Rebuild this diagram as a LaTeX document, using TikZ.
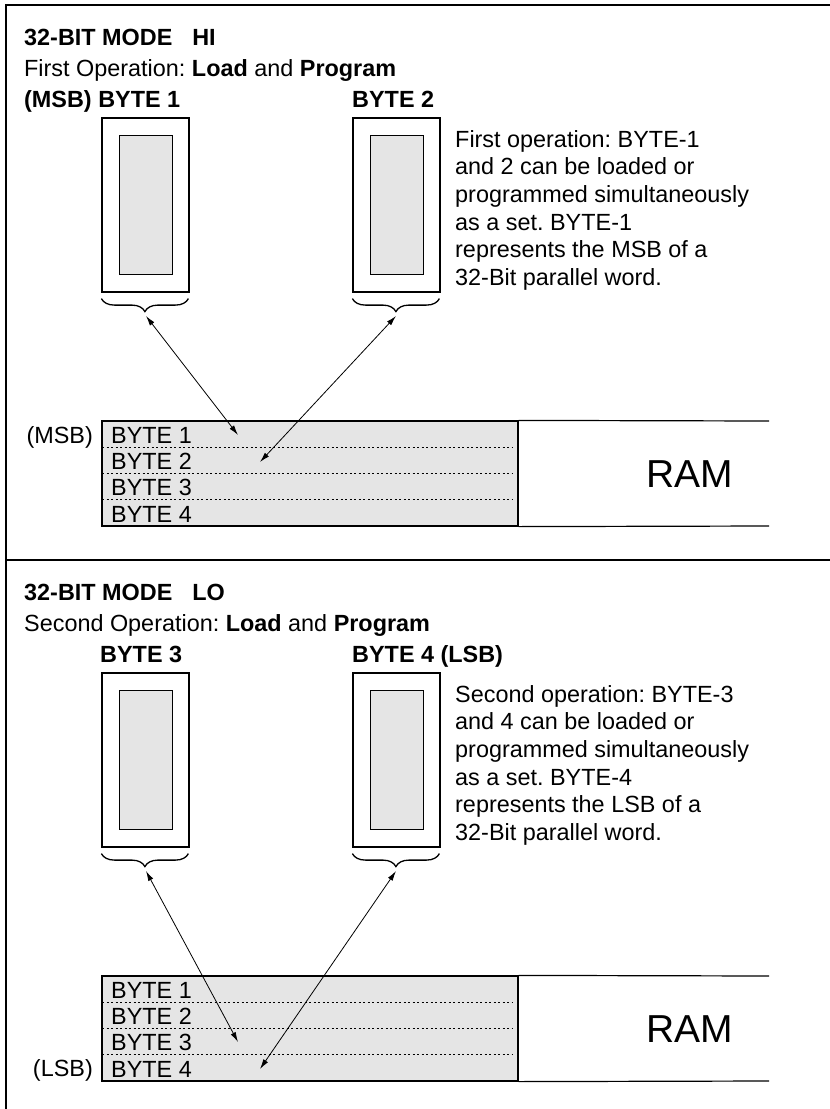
\documentclass[tikz,border=0pt]{standalone}
\usepackage{fontspec}
\setmainfont{Liberation Sans}
\frenchspacing
\usetikzlibrary{arrows.meta,decorations.pathreplacing}

\begin{document}
\begin{tikzpicture}[x=1pt, y=-1pt, >={Latex[length=10pt,width=5.5pt]},
    txt/.style={font=\fontsize{23.4}{27.7}\selectfont, inner sep=0pt},
    bold/.style={font=\fontsize{23.4}{27.7}\selectfont\bfseries, inner sep=0pt},
    ramtxt/.style={font=\fontsize{39}{44}\selectfont, inner sep=0pt},
    chipbox/.style={draw, line width=1.2pt, minimum width=87pt, minimum height=174pt, inner sep=0pt},
    chipcore/.style={draw, line width=1pt, fill=black!10, minimum width=53pt, minimum height=139pt, inner sep=0pt},
    rambox/.style={draw, line width=1.2pt, fill=black!10, minimum width=416pt, minimum height=105pt, inner sep=0pt},
    rowsep/.style={line width=0.8pt, dash pattern=on 2pt off 2.5pt},
    databrace/.style={decorate, decoration={brace, mirror, amplitude=13pt}, line width=1.3pt},
    link/.style={<->, line width=0.8pt}]
  \useasboundingbox (0,0) rectangle (830,1109);

  % frame
  \draw[line width=1.5pt] (830,5) -- (6,5) -- (6,1109);
  \draw[line width=1.5pt] (6,560) -- (830,560);

  % 32-bit mode HI
  \node[bold, anchor=base west] (hititle) at (24,45) {32-BIT MODE\hspace{0.85em}HI};
  \node[txt, anchor=base west] (hiop) at (24,76) {First Operation: \textbf{Load} and \textbf{Program}};
  \node[bold, anchor=base west] (hilab1) at (24,107) {(MSB) BYTE 1};
  \node[bold, anchor=base west] (hilab2) at (352,107) {BYTE 2};
  \node[chipbox] (hichip1) at (145.5,205) {};
  \node[chipcore] (hicore1) at (hichip1.center) {};
  \node[chipbox] (hichip2) at (396.5,205) {};
  \node[chipcore] (hicore2) at (hichip2.center) {};
  \node[txt, anchor=north west, align=left] (hinote) at (455,130)
    {First operation: BYTE-1\\and 2 can be loaded or\\programmed simultaneously\\as a set. BYTE-1\\represents the MSB of a\\32-Bit parallel word.};
  \draw[databrace] (hichip1.south west) ++(0,6) -- ++(87,0);
  \draw[databrace] (hichip2.south west) ++(0,6) -- ++(87,0);

  \node[rambox] (hiram) at (310,473.5) {};
  \draw[line width=1.2pt] (hiram.north east) -- (769,421);
  \draw[line width=1.2pt] (hiram.south east) -- (769,526);
  \foreach \i in {1,2,3}
    \draw[rowsep] (102,{421+26.25*\i}) -- (513,{421+26.25*\i});
  \foreach \i in {1,...,4}
    \node[txt, anchor=base west] (hirow\i) at (111,{421+26.25*\i-4}) {BYTE \i};
  \node[txt, anchor=base east] (himsb) at (93,443) {(MSB)};
  \node[ramtxt] (hiramlab) at (690,474) {RAM};

  \coordinate (hibr1) at (146,316);
  \coordinate (hibr2) at (396,316);
  \coordinate (hiend1) at (238,435);
  \coordinate (hiend2) at (260,462);
  \draw[link] (hibr1) -- (hiend1);
  \draw[link] (hibr2) -- (hiend2);

  % 32-bit mode LO
  \node[bold, anchor=base west] (lotitle) at (24,600) {32-BIT MODE\hspace{0.85em}LO};
  \node[txt, anchor=base west] (loop) at (24,631) {Second Operation: \textbf{Load} and \textbf{Program}};
  \node[bold, anchor=base west] (lolab1) at (100,662) {BYTE 3};
  \node[bold, anchor=base west] (lolab2) at (352,662) {BYTE 4 (LSB)};
  \node[chipbox] (lochip1) at (145.5,760) {};
  \node[chipcore] (locore1) at (lochip1.center) {};
  \node[chipbox] (lochip2) at (396.5,760) {};
  \node[chipcore] (locore2) at (lochip2.center) {};
  \node[txt, anchor=north west, align=left] (lonote) at (455,685)
    {Second operation: BYTE-3\\and 4 can be loaded or\\programmed simultaneously\\as a set. BYTE-4\\represents the LSB of a\\32-Bit parallel word.};
  \draw[databrace] (lochip1.south west) ++(0,6) -- ++(87,0);
  \draw[databrace] (lochip2.south west) ++(0,6) -- ++(87,0);

  \node[rambox] (loram) at (310,1028.5) {};
  \draw[line width=1.2pt] (loram.north east) -- (769,976);
  \draw[line width=1.2pt] (loram.south east) -- (769,1081);
  \foreach \i in {1,2,3}
    \draw[rowsep] (102,{976+26.25*\i}) -- (513,{976+26.25*\i});
  \foreach \i in {1,...,4}
    \node[txt, anchor=base west] (lorow\i) at (111,{976+26.25*\i-4}) {BYTE \i};
  \node[txt, anchor=base east] (lolsb) at (93,1076) {(LSB)};
  \node[ramtxt] (loramlab) at (690,1029) {RAM};

  \coordinate (lobr1) at (146,871);
  \coordinate (lobr2) at (396,871);
  \coordinate (loend1) at (238,1042);
  \coordinate (loend2) at (260,1069);
  \draw[link] (lobr1) -- (loend1);
  \draw[link] (lobr2) -- (loend2);
\end{tikzpicture}
\end{document}
